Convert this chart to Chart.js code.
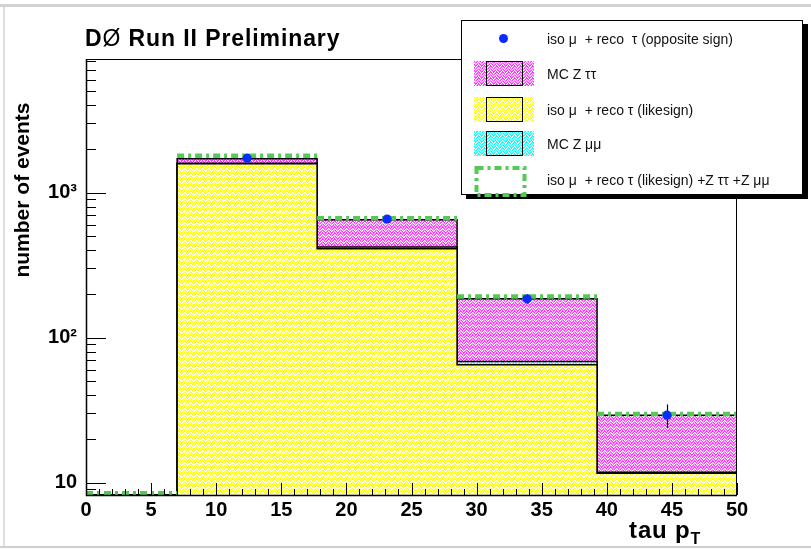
<!DOCTYPE html>
<html><head><meta charset="utf-8">
<script src="https://cdn.jsdelivr.net/npm/chart.js@4.4.0/dist/chart.umd.min.js"></script>
<style>
html,body{margin:0;padding:0;background:#fff;}
#wrap{position:relative;width:811px;height:550px;overflow:hidden;font-family:"Liberation Sans",Arial,Helvetica,sans-serif;color:#000;}
#c{position:absolute;left:0;top:0;}
#frameTop{position:absolute;left:0;top:4px;width:811px;height:3px;background:#d2d2d2;}
#frameLeft{position:absolute;left:3px;top:7px;width:2px;height:540px;background:#dedede;}
#frameBottom{position:absolute;left:0;top:546px;width:811px;height:2px;background:#cfcfcf;}
#title{position:absolute;left:85px;top:27px;font-size:23px;line-height:23px;font-weight:bold;letter-spacing:0.9px;white-space:nowrap;}
#title .o{font-weight:normal;}
#ytitle{position:absolute;left:-78px;top:179px;width:200px;height:22px;line-height:22px;text-align:center;font-size:21px;font-weight:bold;transform:rotate(-90deg);white-space:nowrap;}
#xtitle{position:absolute;right:110px;top:518px;font-size:24px;line-height:24px;font-weight:bold;letter-spacing:0.8px;white-space:nowrap;}
#xtitle sub{font-size:16px;vertical-align:-6px;line-height:0;}
#legend{position:absolute;left:461px;top:20px;width:340px;height:173px;border:1px solid #000;background:#fff;box-shadow:5px 4px 0 #000;}
#legend .row{position:absolute;left:0;width:340px;height:26px;}
#legend .txt{position:absolute;left:85px;top:4px;font-size:14px;line-height:18px;white-space:pre;color:#111;}
#legend .pat{position:absolute;left:12px;top:0;width:60px;height:25px;}
#legend .box{position:absolute;left:24px;top:0;width:35px;height:23px;border:1px solid #000;}
#legend .dot{position:absolute;left:37px;top:8px;width:9px;height:9px;border-radius:50%;background:#0a2bff;}
#legend canvas{position:absolute;left:10px;top:-3px;}
</style></head><body>
<div id="wrap">
<canvas id="c" width="811" height="550"></canvas>
<div id="frameTop"></div><div id="frameLeft"></div><div id="frameBottom"></div>
<div id="title">D<span class="o">Ø</span> Run II Preliminary</div>
<div id="ytitle">number of events</div>
<div id="xtitle">tau p<sub>T</sub></div>
<div id="legend">
  <div class="row" style="top:5px"><div class="dot"></div><span class="txt">iso μ  + reco  τ (opposite sign)</span></div>
  <div class="row" style="top:40px"><div class="pat" id="patZtt"></div><div class="box"></div><span class="txt">MC Z ττ</span></div>
  <div class="row" style="top:76px"><div class="pat" id="patLike"></div><div class="box"></div><span class="txt">iso μ  + reco τ (likesign)</span></div>
  <div class="row" style="top:110px"><div class="pat" id="patZmm"></div><div class="box"></div><span class="txt">MC Z μμ</span></div>
  <div class="row" style="top:146px"><canvas id="greenSym" width="60" height="34"></canvas><span class="txt">iso μ  + reco τ (likesign) +Z ττ +Z μμ</span></div>
</div>
</div>
<script>
// ---------------- data ----------------
const binEdges = [0, 7, 17.75, 28.5, 39.25, 50];
const likesign = [0, 1578, 409, 65, 11.6];
const zmumu    = [0, 10, 12, 3.5, 0.2];
const ztautau  = [0, 120, 228, 117, 17.4];
const sumLine  = [0, 1790, 666, 192, 29.8];
const dataCenters = [12.375, 23.125, 33.875, 44.625];
const dataValues  = [1725, 657, 185, 29.2];
const dataErrors  = [41.5, 25.6, 13.6, 5.4];
const yMajorTicks = [10, 100, 1000];
const yMajorLabels = ['10', '10²', '10³'];
const yRange = [8.23, 8320];
const xRange = [0, 50];
const xMinorStep = 1;
const xMajorStep = 5;

// ---------------- colours / patterns ----------------
const COL_LIKE = [255, 255, 0];
const COL_ZTT  = [255, 51, 255];
const COL_ZMM  = [0, 255, 255];
const COL_GREEN = '#55c955';
const COL_DOT = '#0a2bff';

function makeTile(rgb) {
  const s = 12, h = 6;
  const c = document.createElement('canvas'); c.width = s; c.height = s;
  const g = c.getContext('2d');
  const img = g.createImageData(s, s);
  for (let y = 0; y < s; y++) for (let x = 0; x < s; x++) {
    const u = (x + y) % s, v = (x - y + s) % s;
    const cu = u < h ? 0 : 1, cv = v < h ? 0 : 1;
    const w = ((cu + cv) % 2 === 0) ? u % h : v % h;
    const a = (w === 1 || w === 4) ? 1 : (w === 2 || w === 5) ? 0.4 : 0;
    const k = (y * s + x) * 4;
    img.data[k]   = Math.round(rgb[0] + (255 - rgb[0]) * a);
    img.data[k+1] = Math.round(rgb[1] + (255 - rgb[1]) * a);
    img.data[k+2] = Math.round(rgb[2] + (255 - rgb[2]) * a);
    img.data[k+3] = 255;
  }
  g.putImageData(img, 0, 0);
  return c;
}
const tileLike = makeTile(COL_LIKE), tileZtt = makeTile(COL_ZTT), tileZmm = makeTile(COL_ZMM);
const ctx = document.getElementById('c').getContext('2d');
const patLike = ctx.createPattern(tileLike, 'repeat');
const patZtt = ctx.createPattern(tileZtt, 'repeat');
const patZmm = ctx.createPattern(tileZmm, 'repeat');
document.getElementById('patLike').style.background = 'url(' + tileLike.toDataURL() + ')';
document.getElementById('patZtt').style.background = 'url(' + tileZtt.toDataURL() + ')';
document.getElementById('patZmm').style.background = 'url(' + tileZmm.toDataURL() + ')';
(function(){
  const g = document.getElementById('greenSym').getContext('2d');
  g.strokeStyle = COL_GREEN; g.lineWidth = 4; g.setLineDash([7,4,3,4]);
  g.strokeRect(4.5, 4, 48, 27);
})();

// ---------------- build histogram outlines ----------------
const yMin = yRange[0];
function cumulative(...arrs) { return arrs[0].map((_, i) => arrs.reduce((s, a) => s + a[i], 0)); }
function histPoints(vals) {
  const pts = [];
  for (let i = 0; i < vals.length; i++) pts.push({x: binEdges[i], y: Math.max(vals[i], yMin)});
  const n = vals.length;
  pts.push({x: binEdges[n], y: Math.max(vals[n-1], yMin)});
  pts.push({x: binEdges[n], y: yMin});
  return pts;
}
function segPoints(vals) {
  const pts = [];
  for (let i = 0; i < vals.length; i++) {
    const v = Math.max(vals[i], yMin * 1.03);
    pts.push({x: binEdges[i], y: v}, {x: binEdges[i+1], y: v});
    if (i < vals.length - 1) pts.push({x: binEdges[i+1], y: null});
  }
  return pts;
}
const stackLike = likesign;
const stackZmm = cumulative(likesign, zmumu);
const stackZtt = cumulative(likesign, zmumu, ztautau);

function histDataset(vals, pattern, order) {
  return {type: 'line', data: histPoints(vals), stepped: 'before', fill: 'start',
    backgroundColor: pattern, borderColor: '#000', borderWidth: 1.5,
    pointRadius: 0, order: order};
}

const errorBars = {
  id: 'errorBars',
  beforeDatasetDraw(chart, args) {
    if (args.index !== 4) return;
    const x = chart.scales.x, y = chart.scales.y, c = chart.ctx;
    c.save(); c.strokeStyle = '#000'; c.lineWidth = 1.2;
    for (let i = 0; i < dataValues.length; i++) {
      const px = Math.round(x.getPixelForValue(dataCenters[i])) + 0.5;
      c.beginPath();
      c.moveTo(px, y.getPixelForValue(dataValues[i] - dataErrors[i]));
      c.lineTo(px, y.getPixelForValue(dataValues[i] + dataErrors[i]));
      c.stroke();
    }
    c.restore();
  }
};

const innerTicks = {
  id: 'innerTicks',
  afterDatasetsDraw(chart) {
    const a = chart.chartArea, c = chart.ctx, xs = chart.scales.x, ys = chart.scales.y;
    c.save();
    c.strokeStyle = '#000'; c.lineWidth = 1;
    c.strokeRect(a.left + 0.5, a.top + 0.5, a.right - a.left - 1, a.bottom - a.top);
    c.lineWidth = 1.5;
    c.beginPath();
    c.moveTo(a.left + 0.5, a.top); c.lineTo(a.left + 0.5, a.bottom + 0.5); c.lineTo(a.right, a.bottom + 0.5);
    c.stroke();
    c.lineWidth = 1;
    c.beginPath();
    xs.ticks.forEach(t => {
      const px = Math.round(xs.getPixelForValue(t.value)) + 0.5;
      const len = (t.value % xMajorStep === 0) ? 12 : 6;
      c.moveTo(px, a.bottom); c.lineTo(px, a.bottom - len);
    });
    ys.ticks.forEach(t => {
      const py = Math.round(ys.getPixelForValue(t.value)) + 0.5;
      const len = yMajorTicks.includes(t.value) ? 20 : 10;
      c.moveTo(a.left, py); c.lineTo(a.left + len, py);
    });
    c.stroke();
    c.restore();
  }
};

const tickFont = {family: '"Liberation Sans", Arial, sans-serif', size: 20, weight: 'bold'};

new Chart(ctx, {
  data: {
    datasets: [
      histDataset(stackZtt, patZtt, 6),
      histDataset(stackZmm, patZmm, 5),
      histDataset(stackLike, patLike, 4),
      {type: 'line', data: segPoints(sumLine), borderColor: COL_GREEN, borderWidth: 4.5,
       borderDash: [7, 4, 3, 4], fill: false, pointRadius: 0, spanGaps: false, order: 2},
      {type: 'line', data: dataCenters.map((x, i) => ({x: x, y: dataValues[i]})), showLine: false,
       pointRadius: 4.6, pointBackgroundColor: COL_DOT, pointBorderColor: COL_DOT, pointBorderWidth: 0, order: 1}
    ]
  },
  options: {
    responsive: false, animation: false, devicePixelRatio: 1, events: [],
    layout: {padding: {top: 59, right: 74, left: 0, bottom: 0}},
    plugins: {legend: {display: false}, tooltip: {enabled: false}, title: {display: false}},
    scales: {
      x: {type: 'linear', min: xRange[0], max: xRange[1],
        afterBuildTicks: s => { const t = []; for (let v = xRange[0]; v <= xRange[1]; v += xMinorStep) t.push({value: v}); s.ticks = t; },
        afterFit: s => { s.height = 55; },
        grid: {display: false, drawTicks: false}, border: {display: false},
        ticks: {autoSkip: false, maxRotation: 0, minRotation: 0, padding: 3, color: '#000', font: tickFont,
          callback: v => (v % xMajorStep === 0 ? String(v) : '')}},
      y: {type: 'logarithmic', min: yRange[0], max: yRange[1],
        afterBuildTicks: s => {
          const t = [];
          for (let d = 1; d <= 1000; d *= 10) for (let m = 1; m <= 9; m++) { const v = m * d; if (v >= yRange[0] && v <= yRange[1]) t.push({value: v}); }
          s.ticks = t;
        },
        afterFit: s => { s.width = 86; },
        grid: {display: false, drawTicks: false}, border: {display: false},
        ticks: {autoSkip: false, padding: 9, color: '#000', font: tickFont,
          callback: v => { const i = yMajorTicks.indexOf(v); return i >= 0 ? yMajorLabels[i] : ''; }}}
    }
  },
  plugins: [errorBars, innerTicks]
});
</script>
</body></html>
